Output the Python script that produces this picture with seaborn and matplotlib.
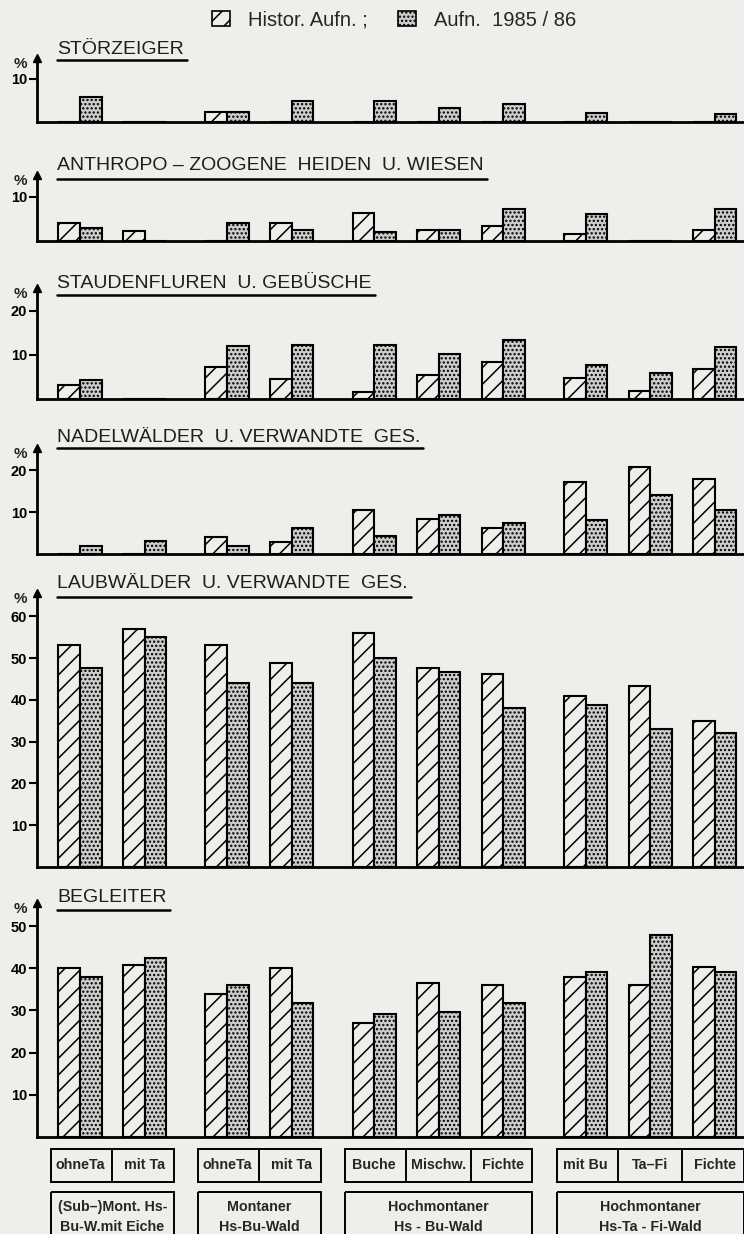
import matplotlib
matplotlib.use("Agg")
import matplotlib.pyplot as plt
import numpy as np
import pandas as pd
import seaborn as sns
from matplotlib.patches import Rectangle, Patch
from matplotlib.lines import Line2D

# ---------------- data ----------------
series = ["Histor. Aufn.", "Aufn. 1985/86"]
group_labels = ["ohneTa", "mit Ta", "ohneTa", "mit Ta", "Buche", "Mischw.", "Fichte",
                "mit Bu", "Ta–Fi", "Fichte"]
cluster_sizes = [2, 2, 3, 3]
cluster_labels = ["(Sub–)Mont. Hs-\nBu-W.mit Eiche", "Montaner\nHs-Bu-Wald",
                  "Hochmontaner\nHs - Bu-Wald", "Hochmontaner\nHs-Ta - Fi-Wald"]
panel_titles = ["STÖRZEIGER", "ANTHROPO – ZOOGENE  HEIDEN  U. WIESEN",
                "STAUDENFLUREN  U. GEBÜSCHE", "NADELWÄLDER  U. VERWANDTE  GES.",
                "LAUBWÄLDER  U. VERWANDTE  GES.", "BEGLEITER"]
panel_ticks = [[10], [10], [10, 20], [10, 20], [10, 20, 30, 40, 50, 60], [10, 20, 30, 40, 50]]

stoer_hist = [0, 0, 2.4, 0, 0, 0, 0, 0, 0, 0]
stoer_new = [5.7, 0, 2.4, 5.0, 5.0, 3.2, 4.2, 2.0, 0, 1.8]
anthro_hist = [4.2, 2.3, 0, 4.1, 6.4, 2.4, 3.5, 1.7, 0, 2.6]
anthro_new = [3.0, 0, 4.1, 2.4, 2.0, 2.4, 7.3, 6.1, 0, 7.3]
stauden_hist = [3.2, 0, 7.3, 4.6, 1.5, 5.4, 8.4, 4.7, 1.9, 6.8]
stauden_new = [4.4, 0, 12.1, 12.3, 12.3, 10.2, 13.5, 7.7, 5.9, 11.9]
nadel_hist = [0, 0, 4.0, 2.8, 10.5, 8.4, 6.3, 17.2, 20.8, 17.8]
nadel_new = [1.9, 3.2, 2.0, 6.2, 4.3, 9.4, 7.4, 8.0, 14.1, 10.5]
laub_hist = [53.1, 56.9, 53.1, 48.9, 55.9, 47.7, 46.1, 40.8, 43.2, 35.0]
laub_new = [47.7, 55.1, 44.0, 44.0, 50.1, 46.6, 38.0, 38.8, 33.1, 32.1]
begl_hist = [40.0, 40.7, 33.8, 40.0, 27.1, 36.5, 36.0, 38.0, 36.0, 40.2]
begl_new = [37.8, 42.3, 36.1, 31.8, 29.1, 29.7, 31.8, 39.0, 47.8, 39.0]

panels = [(stoer_hist, stoer_new), (anthro_hist, anthro_new), (stauden_hist, stauden_new),
          (nadel_hist, nadel_new), (laub_hist, laub_new), (begl_hist, begl_new)]

# ---------------- layout (pixels of a 744 x 1234 figure) ----------------
W, H = 744, 1234
BG = "#eeeeea"
panel_top = [58, 175, 288, 448, 593, 903]
panel_base = [122, 241, 399, 554, 867, 1137]
px_per_unit = [4.3, 4.4, 4.4, 4.2, 4.18, 4.22]
title_y = [49, 166, 284, 437, 584, 897]
uline_y = [60, 179, 295, 448, 597, 910]
ax_left_px, ax_right_px = 37, 744
cluster_gap = 0.28

# group positions: unit step inside a cluster, extra gap between clusters
pos = []
x = 0.0
for ci, n in enumerate(cluster_sizes):
    for j in range(n):
        pos.append(x)
        x += 1.0
    x += cluster_gap
pos = np.array(pos)
unit_px = 64.5
x0_px = 80
xlim = ((ax_left_px - x0_px) / unit_px, (ax_right_px - x0_px) / unit_px)

sns.set_theme(style="white")
plt.rcParams["font.family"] = ["Liberation Sans", "DejaVu Sans"]
plt.rcParams["hatch.linewidth"] = 1.1
plt.rcParams["axes.facecolor"] = BG
plt.rcParams["figure.facecolor"] = BG

fig = plt.figure(figsize=(W / 100, H / 100), dpi=100)

palette = {series[0]: BG, series[1]: "#cdcdcd"}

for i, (hist, new) in enumerate(panels):
    top, base = panel_top[i], panel_base[i]
    ax = fig.add_axes([ax_left_px / W, 1 - base / H, (ax_right_px - ax_left_px) / W, (base - top) / H])
    df = pd.DataFrame({
        "pos": np.concatenate([pos, pos]),
        "value": np.concatenate([hist, new]),
        "series": [series[0]] * len(pos) + [series[1]] * len(pos),
    })
    sns.barplot(data=df, x="pos", y="value", hue="series", hue_order=series,
                native_scale=True, width=0.67, dodge=True, palette=palette,
                edgecolor="black", linewidth=1.5, legend=False, errorbar=None, ax=ax)
    for p in ax.patches:
        cx = p.get_x() + p.get_width() / 2
        k = np.argmin(np.abs(pos - cx))
        if cx < pos[k]:
            p.set_hatch("//")
        else:
            p.set_hatch("....")
    ymax = (base - top) / px_per_unit[i]
    ax.set_xlim(*xlim)
    ax.set_ylim(0, ymax)
    ax.set_xticks([])
    ax.set_yticks(panel_ticks[i])
    ax.set_yticklabels([str(t) for t in panel_ticks[i]], fontweight="bold", fontsize=10.5)
    ax.tick_params(axis="y", direction="out", length=6, width=1.5, pad=1, left=True, colors="black")
    ax.set_xlabel("")
    ax.set_ylabel("")
    for s in ["top", "right"]:
        ax.spines[s].set_visible(False)
    for s in ["left", "bottom"]:
        ax.spines[s].set_linewidth(2.0)
        ax.spines[s].set_color("black")
    ax.plot([0], [1], marker="^", markersize=6, color="black", transform=ax.transAxes, clip_on=False)
    ax.annotate("%", xy=(0, 1), xycoords="axes fraction", xytext=(-12, -4),
                textcoords="offset points", ha="center", va="center",
                fontsize=11, fontweight="bold")
    # title and underline
    t = fig.text(57 / W, 1 - title_y[i] / H, panel_titles[i], ha="left", va="center",
                 fontsize=14, color="#1e1e1e")
    t._uline_y = uline_y[i]

# legend
handles = [Patch(facecolor=palette[series[0]], edgecolor="black", hatch="//", linewidth=1.2),
           Patch(facecolor=palette[series[1]], edgecolor="black", hatch="....", linewidth=1.2)]
fig.legend(handles, [series[0] + " ;", "Aufn.  1985 / 86"], loc="center",
           bbox_to_anchor=(394 / W, 1 - 20 / H),
           ncol=2, frameon=False, fontsize=14.5, handlelength=0.9, handleheight=0.8,
           handletextpad=0.9, columnspacing=1.5)

# category boxes below the chart
axb = fig.add_axes([ax_left_px / W, 0, (ax_right_px - ax_left_px) / W, (H - 1144) / H])
axb.set_xlim(*xlim)
axb.set_ylim(H, 1144)
axb.axis("off")
start = 0
for ci, n in enumerate(cluster_sizes):
    idx = list(range(start, start + n))
    xa, xb = pos[idx[0]] - 0.45, pos[idx[-1]] + 0.45
    axb.add_patch(Rectangle((xa, 1149), xb - xa, 33, fill=False, edgecolor="black", linewidth=1.4))
    for j in idx[:-1]:
        xm = (pos[j] + pos[j + 1]) / 2
        axb.plot([xm, xm], [1149, 1182], color="black", linewidth=1.4)
    for j in idx:
        axb.text(pos[j], 1165.5, group_labels[j], ha="center", va="center", fontsize=10.3,
                 fontweight="bold")
    axb.add_patch(Rectangle((xa, 1192), xb - xa, 60, fill=False, edgecolor="black", linewidth=1.4))
    axb.text((xa + xb) / 2, 1217, cluster_labels[ci], ha="center", va="center", fontsize=10.3,
             fontweight="bold", linespacing=1.5)
    start += n

# underlines for panel titles
fig.canvas.draw()
r = fig.canvas.get_renderer()
for t in fig.texts:
    if hasattr(t, "_uline_y"):
        bb = t.get_window_extent(r)
        y = 1 - t._uline_y / H
        fig.add_artist(Line2D([57 / W, (bb.x1 + 3) / W], [y, y], color="black", linewidth=1.8,
                              transform=fig.transFigure))

fig.savefig("out.png", dpi=100, facecolor=BG)
